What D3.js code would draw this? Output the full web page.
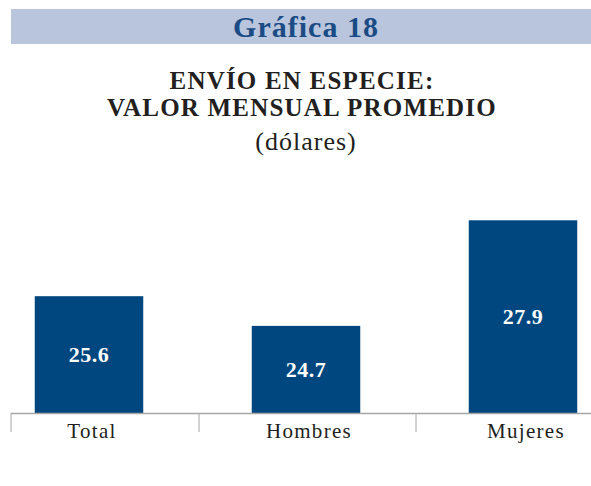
<!DOCTYPE html>
<html>
<head>
<meta charset="utf-8">
<script src="https://cdn.jsdelivr.net/npm/d3@7"></script>
<style>
  body { margin: 0; background: #fff; }
  svg { display: block; }
  text { font-family: "Liberation Serif", "DejaVu Serif", serif; }
</style>
</head>
<body>
<div class="chart-container"></div>
<script>
const SVG_WIDTH = 591;
const SVG_HEIGHT = 486;

const categories = ["Total", "Hombres", "Mujeres"];
const values = [25.6, 24.7, 27.9];

const BAR_COLOUR = "#00467f";
const TITLE_COLOUR = "#1b4b84";
const TEXT_COLOUR = "#231f20";

const svg = d3.select(".chart-container")
    .append("svg")
    .attr("width", SVG_WIDTH)
    .attr("height", SVG_HEIGHT);

// header band
svg.append("rect")
    .attr("x", 11)
    .attr("y", 9)
    .attr("width", SVG_WIDTH - 11)
    .attr("height", 35)
    .attr("fill", "#b9c5dc");

svg.append("text")
    .attr("x", 306)
    .attr("y", 37)
    .attr("text-anchor", "middle")
    .style("font-weight", "bold")
    .style("font-size", "30px")
    .style("letter-spacing", "1px")
    .attr("fill", TITLE_COLOUR)
    .text("Gráfica 18");

const titleLines = ["ENVÍO EN ESPECIE:", "VALOR MENSUAL PROMEDIO"];
titleLines.forEach((line, i) => {
    svg.append("text")
        .attr("x", 302)
        .attr("y", 89 + i * 27)
        .attr("text-anchor", "middle")
        .style("font-weight", "bold")
        .style("font-size", "25px")
        .style("letter-spacing", "1.2px")
        .attr("fill", TEXT_COLOUR)
        .text(line);
});

svg.append("text")
    .attr("x", 306)
    .attr("y", 150)
    .attr("text-anchor", "middle")
    .style("font-size", "26px")
    .style("letter-spacing", "1px")
    .attr("fill", TEXT_COLOUR)
    .text("(dólares)");

// scales
const baseY = 413;

const x = d3.scaleBand()
    .domain(categories)
    .range([-19.5, 631.5])
    .paddingInner(0.5)
    .paddingOuter(0.25);

const y = d3.scaleLinear()
    .domain([22.06, 28])
    .range([baseY, 217]);

const bars = svg.append("g");

bars.selectAll("rect")
    .data(values)
    .join("rect")
    .attr("x", (d, i) => x(categories[i]))
    .attr("y", d => y(d))
    .attr("width", x.bandwidth())
    .attr("height", d => baseY - y(d))
    .attr("fill", BAR_COLOUR);

bars.selectAll("text")
    .data(values)
    .join("text")
    .attr("x", (d, i) => x(categories[i]) + x.bandwidth() / 2)
    .attr("y", d => (y(d) + baseY) / 2)
    .attr("dy", "0.35em")
    .attr("text-anchor", "middle")
    .style("font-weight", "bold")
    .style("font-size", "22px")
    .style("letter-spacing", "0.5px")
    .attr("fill", "#fff")
    .text(d => d.toFixed(1));

// axis
const axis = svg.append("g");

axis.append("line")
    .attr("x1", 11)
    .attr("x2", SVG_WIDTH)
    .attr("y1", baseY + 0.5)
    .attr("y2", baseY + 0.5)
    .attr("stroke", "#a6a6a6")
    .attr("stroke-width", 1.5);

const gap = x.step() - x.bandwidth();
const tickXs = [11].concat(categories.slice(1).map(c => x(c) - gap / 2 + 1.5));

axis.selectAll(".tick")
    .data(tickXs)
    .join("line")
    .attr("class", "tick")
    .attr("x1", d => d)
    .attr("x2", d => d)
    .attr("y1", baseY)
    .attr("y2", baseY + 19)
    .attr("stroke", "#a6a6a6")
    .attr("stroke-width", 1);

axis.selectAll(".cat")
    .data(categories)
    .join("text")
    .attr("class", "cat")
    .attr("x", d => x(d) + x.bandwidth() / 2 + 3)
    .attr("y", 438)
    .attr("text-anchor", "middle")
    .style("font-size", "21px")
    .style("letter-spacing", "1.3px")
    .attr("fill", TEXT_COLOUR)
    .text(d => d);
</script>
</body>
</html>
